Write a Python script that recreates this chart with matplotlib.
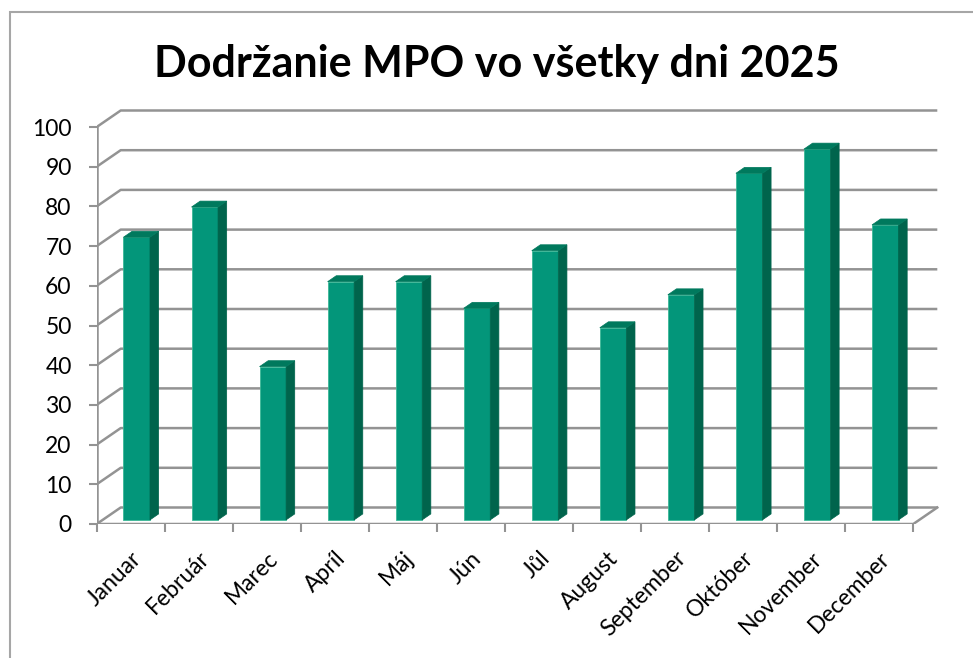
#!/usr/bin/env python3
import matplotlib
matplotlib.use('Agg')
import matplotlib.pyplot as plt
from matplotlib.patches import Polygon, Rectangle

plt.rcParams['font.family'] = ['Lato', 'DejaVu Sans']

# data
months = ['Januar', 'Február', 'Marec', 'Apríl', 'Máj', 'Jún',
          'Jůl', 'August', 'September', 'Október', 'November', 'December']
values = [71.2, 78.8, 38.6, 60.0, 60.0, 53.3, 67.8, 48.4, 56.7, 87.3, 93.4, 74.3]
yticks = list(range(0, 101, 10))
title = 'Dodržanie MPO vo všetky dni 2025'

# colours
front_col = '#03967a'
side_col = '#00644c'
top_col = '#00795d'
grid_col = '#939393'

# figure / pixel layout
W, H = 973, 658
x0_px, x_step = 96.7, 68.05    # front axis origin and px per category
y0_px, y_step = 524, 3.97      # px position of 0 and px per unit
xmax, ymax = 12.5, 105

# oblique depth vector (full depth of the floor) in data units
DX = 24 / x_step
DY = 16.5 / y_step
f0 = 0.25     # depth where the bar front face sits
bd = 0.36     # bar depth
bw = 0.39     # bar width

fig = plt.figure(figsize=(W / 100, H / 100), dpi=100)
ax = fig.add_axes([x0_px / W, (H - y0_px) / H,
                   xmax * x_step / W, ymax * y_step / H])
ax.set_xlim(0, xmax)
ax.set_ylim(0, ymax)
for s in ax.spines.values():
    s.set_visible(False)

n = len(months)

# side wall + back wall gridlines
for v in yticks:
    ax.plot([0, DX, n + DX], [v, v + DY, v + DY], color=grid_col, lw=1.8,
            zorder=1, solid_capstyle='butt')
# floor front edge and right edge
ax.plot([0, n, n + DX], [0, 0, DY], color=grid_col, lw=1.8, zorder=1)
# front vertical axis
ax.plot([0, 0], [0, 100], color=grid_col, lw=1.8, zorder=1)

# columns
lefts = [i + 0.5 - bw / 2 + f0 * DX for i in range(n)]
base = f0 * DY
ax.bar(lefts, values, width=bw, bottom=base, align='edge', color=front_col,
       edgecolor='#3bb896', linewidth=0.6, zorder=3)
for l, v in zip(lefts, values):
    r = l + bw
    top = base + v
    ox, oy = bd * DX, bd * DY
    ax.add_patch(Polygon([(r, base), (r + ox, base + oy), (r + ox, top + oy), (r, top)],
                         closed=True, facecolor=side_col, edgecolor=side_col,
                         lw=0.5, zorder=3))
    ax.add_patch(Polygon([(l, top), (r, top), (r + ox, top + oy), (l + ox, top + oy)],
                         closed=True, facecolor=top_col, edgecolor=top_col,
                         lw=0.5, zorder=3))

# y ticks
ax.set_yticks(yticks)
ax.set_yticklabels([str(t) for t in yticks], fontsize=16.5)
ax.tick_params(axis='y', length=6, width=1.5, color=grid_col, pad=12)

# x ticks at category borders, labels at centres
ax.set_xticks(range(n + 1))
ax.set_xticklabels([])
ax.tick_params(axis='x', which='major', length=6, width=1.5, color=grid_col)
ax.set_xticks([i + 0.5 for i in range(n)], minor=True)
ax.set_xticklabels(months, minor=True, fontsize=16.5, rotation=45,
                   ha='right', rotation_mode='anchor')
ax.tick_params(axis='x', which='minor', length=0, pad=17)

# title
fig.text(497 / W, 1 - 76.7 / H, title, ha='center', va='baseline',
         fontsize=31, fontweight='bold')

# chart area border
fig.patches.append(Rectangle((9.5 / W, -0.1), 2, 1.1 - 12 / H, fill=False,
                             edgecolor='#a6a6a6', lw=1.5,
                             transform=fig.transFigure, figure=fig))

plt.savefig('out.png', dpi=100)
